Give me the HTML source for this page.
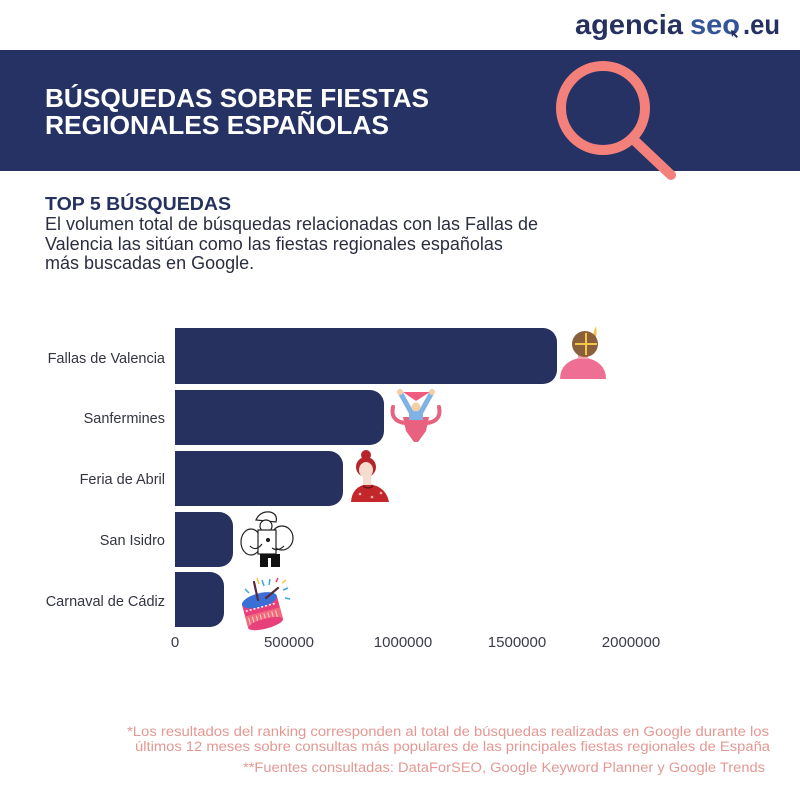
<!DOCTYPE html>
<html>
<head>
<meta charset="utf-8">
<style>
html,body{margin:0;padding:0;background:#fff;}
body{width:800px;height:800px;overflow:hidden;}
svg{display:block;font-family:"Liberation Sans",Arial,sans-serif;}
</style>
</head>
<body>
<svg width="800" height="800" viewBox="0 0 800 800" xmlns="http://www.w3.org/2000/svg">
  <rect x="0" y="0" width="800" height="800" fill="#ffffff"/>

  <!-- Logo -->
  <text x="575" y="34" font-size="28" font-weight="bold" fill="#26315f" textLength="108" lengthAdjust="spacingAndGlyphs">agencia</text>
  <text x="690" y="34" font-size="28" font-weight="bold" fill="#34549a" textLength="50" lengthAdjust="spacingAndGlyphs">seo</text>
  <path d="M731 30 l6 2 l-2 1.5 l3 3 l-1.5 1.5 l-3 -3 l-1.5 2 z" fill="#26315f"/>
  <text x="743" y="34" font-size="28" font-weight="bold" fill="#26315f" textLength="37" lengthAdjust="spacingAndGlyphs">.eu</text>

  <!-- Header band -->
  <rect x="0" y="50" width="800" height="121" fill="#263263"/>
  <text x="45" y="107" font-size="26" font-weight="bold" fill="#ffffff" textLength="384" lengthAdjust="spacingAndGlyphs">BÚSQUEDAS SOBRE FIESTAS</text>
  <text x="45" y="134" font-size="26" font-weight="bold" fill="#ffffff" textLength="344" lengthAdjust="spacingAndGlyphs">REGIONALES ESPAÑOLAS</text>

  <!-- Magnifier -->
  <circle cx="603" cy="108" r="42" fill="none" stroke="#f4807b" stroke-width="10"/>
  <line x1="634" y1="140" x2="671" y2="175" stroke="#f4807b" stroke-width="10" stroke-linecap="round"/>

  <!-- Subtitle -->
  <text x="45" y="210" font-size="18" font-weight="bold" fill="#26315f" textLength="186" lengthAdjust="spacingAndGlyphs">TOP 5 BÚSQUEDAS</text>
  <text x="45" y="230" font-size="18" fill="#2b2e40" textLength="493" lengthAdjust="spacingAndGlyphs">El volumen total de búsquedas relacionadas con las Fallas de</text>
  <text x="45" y="250" font-size="18" fill="#2b2e40">Valencia las sitúan como las fiestas regionales españolas</text>
  <text x="45" y="269" font-size="18" fill="#2b2e40">más buscadas en Google.</text>

  <!-- Bars -->
  <g fill="#26315f">
    <path d="M175 328 H543 A14 14 0 0 1 557 342 V370 A14 14 0 0 1 543 384 H175 Z"/>
    <path d="M175 390 H370 A14 14 0 0 1 384 404 V431 A14 14 0 0 1 370 445 H175 Z"/>
    <path d="M175 451 H329 A14 14 0 0 1 343 465 V492 A14 14 0 0 1 329 506 H175 Z"/>
    <path d="M175 512 H219 A14 14 0 0 1 233 526 V553 A14 14 0 0 1 219 567 H175 Z"/>
    <path d="M175 572 H210 A14 14 0 0 1 224 586 V613 A14 14 0 0 1 210 627 H175 Z"/>
  </g>

  <!-- Category labels -->
  <g font-size="14.5" fill="#333540" text-anchor="end">
    <text x="165" y="363">Fallas de Valencia</text>
    <text x="165" y="423">Sanfermines</text>
    <text x="165" y="484">Feria de Abril</text>
    <text x="165" y="545">San Isidro</text>
    <text x="165" y="606">Carnaval de Cádiz</text>
  </g>

  <!-- Axis tick labels -->
  <g font-size="15" fill="#3a3c46" text-anchor="middle">
    <text x="175" y="647">0</text>
    <text x="289" y="647">500000</text>
    <text x="403" y="647">1000000</text>
    <text x="517" y="647">1500000</text>
    <text x="631" y="647">2000000</text>
  </g>

  <!-- Icon: Fallas -->
  <g>
    <path d="M592 342 Q593 332 596 326 Q598 334 594 343 Z" fill="#f2c744"/>
    <path d="M560 379 Q560 361 583 357 Q606 361 606 379 Z" fill="#ee6f93"/>
    <rect x="578" y="352" width="10" height="7" fill="#f0a0a8"/>
    <circle cx="585" cy="344" r="13" fill="#8b5e3c"/>
    <path d="M575 344 H597 M586 333 V355" stroke="#f2c744" stroke-width="2"/>
  </g>

  <!-- Icon: Sanfermines -->
  <g>
    <path d="M393 407 Q390 421 405 423" fill="none" stroke="#e8627f" stroke-width="4" stroke-linecap="round"/>
    <path d="M439 407 Q442 421 427 423" fill="none" stroke="#e8627f" stroke-width="4" stroke-linecap="round"/>
    <path d="M403 417 H429 L426 431 L418 442 H414 L406 431 Z" fill="#e8627f"/>
    <path d="M401 394 L411 412 M431 394 L421 412" stroke="#7fb3e6" stroke-width="5" stroke-linecap="round"/>
    <rect x="409" y="410" width="14" height="10" fill="#7fb3e6"/>
    <circle cx="416" cy="407" r="4.5" fill="#f3cfa3"/>
    <path d="M403 392 H430 L416 401 Z" fill="#ef5b7d"/>
    <circle cx="400" cy="392" r="3" fill="#f3cfa3"/>
    <circle cx="432" cy="392" r="3" fill="#f3cfa3"/>
  </g>

  <!-- Icon: Feria de Abril -->
  <g>
    <path d="M351 502 Q352 486 368 484 Q386 486 389 502 Z" fill="#c3272b"/>
    <circle cx="360" cy="494" r="1.3" fill="#f4b3a8"/>
    <circle cx="372" cy="497" r="1.3" fill="#f4b3a8"/>
    <circle cx="381" cy="493" r="1.3" fill="#f4b3a8"/>
    <rect x="363" y="476" width="8" height="9" fill="#f6dccd"/>
    <circle cx="366" cy="455" r="5" fill="#b5242a"/>
    <circle cx="366" cy="467" r="10" fill="#b5242a"/>
    <ellipse cx="366" cy="470" rx="7" ry="8" fill="#f6dccd"/>
    <path d="M363 486 Q368 490 373 486" fill="none" stroke="#5a1414" stroke-width="1.2"/>
  </g>

  <!-- Icon: San Isidro -->
  <g fill="none" stroke="#222" stroke-width="1.2">
    <path d="M256 520 Q260 511 270 512 Q278 514 276 522 Z" fill="#fff"/>
    <circle cx="266" cy="526" r="6" fill="#fff"/>
    <ellipse cx="251" cy="542" rx="10" ry="13" fill="#fff"/>
    <ellipse cx="282" cy="538" rx="11" ry="12" fill="#fff"/>
    <rect x="258" y="530" width="18" height="24" fill="#fff"/>
    <path d="M250 546 Q256 552 262 544 M272 548 Q278 552 284 546"/>
    <circle cx="268" cy="540" r="1.5" fill="#222"/>
  </g>
  <rect x="260" y="554" width="20" height="13" fill="#111"/>
  <rect x="268" y="558" width="3" height="9" fill="#fff"/>

  <!-- Icon: Carnaval drum -->
  <g>
    <g transform="rotate(-15 262 610)">
      <rect x="244" y="600" width="36" height="24" fill="#e8407a"/>
      <rect x="244" y="612" width="36" height="12" fill="#f16b7a"/>
      <path d="M247 614 V624 M251 614 V624 M255 614 V624 M259 614 V624 M263 614 V624 M267 614 V624 M271 614 V624 M275 614 V624" stroke="#ffd0d8" stroke-width="1"/>
      <ellipse cx="262" cy="624" rx="18" ry="5" fill="#e8407a"/>
      <ellipse cx="262" cy="600" rx="18" ry="7" fill="#3c6fd6"/>
      <path d="M246 607 H278" stroke="#fff" stroke-width="1.5" stroke-dasharray="2 2"/>
    </g>
    <path d="M258 600 L254 582 M266 598 L278 588" stroke="#5a2a3a" stroke-width="2.2" stroke-linecap="round"/>
    <path d="M262 580 L264 586 M270 579 L269 585 M283 590 L288 588 M285 598 L290 599 M245 589 L249 593" stroke="#3aa7e0" stroke-width="1.5"/>
    <path d="M257 578 L259 584 M282 583 L286 580" stroke="#f2c744" stroke-width="1.5"/>
    <path d="M276 582 L278 578" stroke="#e8407a" stroke-width="1.5"/>
  </g>

  <!-- Footer -->
  <g font-size="13.5" fill="#e39893" text-anchor="end">
    <text x="769" y="736" textLength="642" lengthAdjust="spacingAndGlyphs">*Los resultados del ranking corresponden al total de búsquedas realizadas en Google durante los</text>
    <text x="770" y="751" textLength="635" lengthAdjust="spacingAndGlyphs">últimos 12 meses sobre consultas más populares de las principales fiestas regionales de España</text>
    <text x="765" y="772" textLength="522" lengthAdjust="spacingAndGlyphs">**Fuentes consultadas: DataForSEO, Google Keyword Planner y Google Trends</text>
  </g>
</svg>
</body>
</html>
